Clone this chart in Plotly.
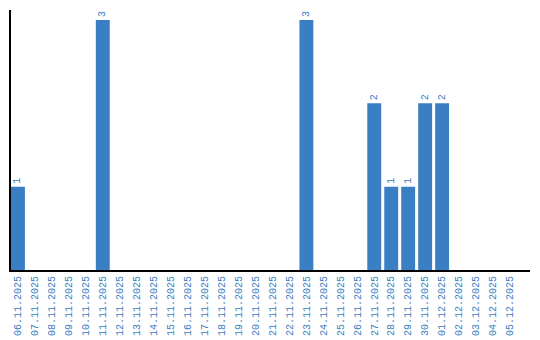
import plotly.graph_objects as go

dates = ["06.11.2025","07.11.2025","08.11.2025","09.11.2025","10.11.2025","11.11.2025",
         "12.11.2025","13.11.2025","14.11.2025","15.11.2025","16.11.2025","17.11.2025",
         "18.11.2025","19.11.2025","20.11.2025","21.11.2025","22.11.2025","23.11.2025",
         "24.11.2025","25.11.2025","26.11.2025","27.11.2025","28.11.2025","29.11.2025",
         "30.11.2025","01.12.2025","02.12.2025","03.12.2025","04.12.2025","05.12.2025"]
counts = [1,0,0,0,0,3,0,0,0,0,0,0,0,0,0,0,0,3,0,0,0,2,1,1,2,2,0,0,0,0]
labels = [str(v) if v else "" for v in counts]

blue = "#3a7ec3"
font = "Liberation Mono"
fig = go.Figure(go.Bar(
    x=dates, y=counts, marker_color=blue, marker_line_width=0,
    text=labels, textposition="outside", textangle=-90,
    textfont=dict(family=font, size=10, color=blue),
    cliponaxis=False,
))
fig.update_layout(
    width=540, height=340, margin=dict(l=11, r=10, t=10, b=70, autoexpand=False),
    paper_bgcolor="white", plot_bgcolor="white", showlegend=False,
    bargap=0.18,
    xaxis=dict(type="category", range=[-0.41, 30.18], showgrid=False, automargin=False,
               showline=True, linecolor="black", linewidth=2,
               tickangle=-90, ticks="",
               tickfont=dict(family=font, size=10, color=blue)),
    yaxis=dict(range=[0, 3.12], showgrid=False, showticklabels=False, zeroline=False,
               automargin=False,
               showline=True, linecolor="black", linewidth=1.5, ticks=""),
)
fig.write_html("out.html")
